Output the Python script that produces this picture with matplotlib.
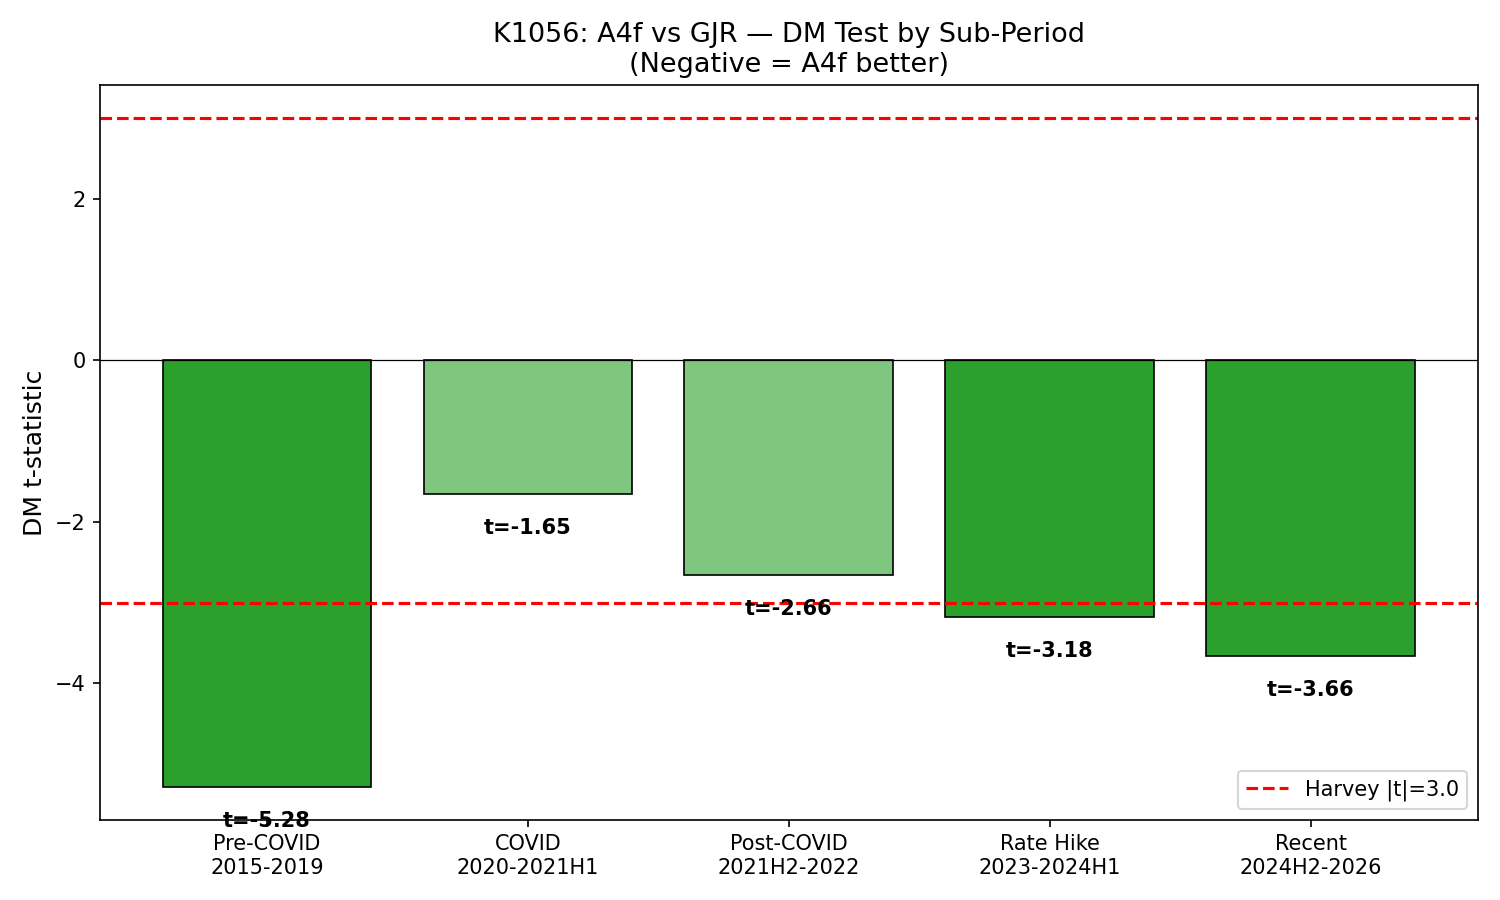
import numpy as np
import matplotlib.pyplot as plt

# Sub-period DM test results
periods = ['Pre-COVID\n2015-2019', 'COVID\n2020-2021H1', 'Post-COVID\n2021H2-2022',
           'Rate Hike\n2023-2024H1', 'Recent\n2024H2-2026']
t_stats = np.array([-5.28, -1.65, -2.66, -3.18, -3.66])
threshold = 3.0

fig, ax = plt.subplots(figsize=(10, 6), dpi=150)

x = np.arange(len(periods))
colors = ['#2ca02c' if abs(t) > threshold else '#7fc67f' for t in t_stats]
ax.bar(x, t_stats, width=0.8, color=colors, edgecolor='black', linewidth=0.8)

ax.axhline(0, color='black', linewidth=0.6)
ax.axhline(threshold, color='red', linestyle='--', linewidth=1.5, label=f'Harvey |t|={threshold}')
ax.axhline(-threshold, color='red', linestyle='--', linewidth=1.5)

# annotate each bar below its end
for xi, t in zip(x, t_stats):
    ax.text(xi, t - 0.3, f't={t:.2f}', ha='center', va='top', fontsize=10, fontweight='bold')

ax.set_xticks(x)
ax.set_xticklabels(periods, fontsize=10)
ax.tick_params(axis='y', labelsize=10)
ax.set_ylabel('DM t-statistic', fontsize=12)
ax.set_title('K1056: A4f vs GJR — DM Test by Sub-Period\n(Negative = A4f better)', fontsize=13)
ax.set_ylim(-5.69, 3.41)
ax.legend(loc='lower right', fontsize=10)

plt.tight_layout()
plt.savefig('out.png')
